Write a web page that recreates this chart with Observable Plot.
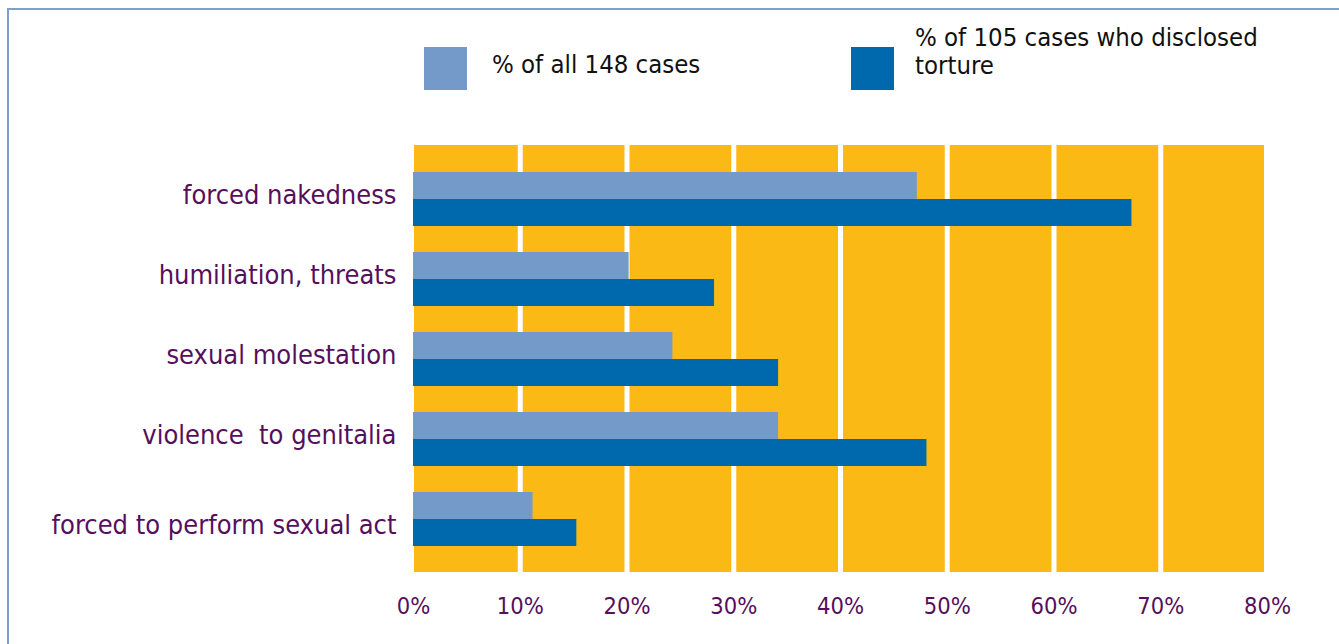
<!DOCTYPE html>
<html>
<head>
<meta charset="utf-8">
<script src="https://cdn.jsdelivr.net/npm/d3@7"></script>
<script src="https://cdn.jsdelivr.net/npm/@observablehq/plot@0.6"></script>
<style>
  html, body { margin: 0; padding: 0; background: #fff; overflow: hidden; }
  body { width: 1339px; height: 644px; position: relative; font-family: "DejaVu Sans Condensed", "DejaVu Sans", sans-serif; }
  #frame { position: absolute; left: 7px; top: 8px; width: 1340px; height: 650px; border-left: 2px solid #7f9fce; border-top: 2px solid #7f9fce; box-sizing: border-box; }
  #legend { position: absolute; left: 0; top: 0; width: 1339px; height: 100px; }
  .sw { position: absolute; width: 43px; height: 43px; top: 47px; }
  .lt { position: absolute; color: #111; font-size: 25.5px; line-height: 28px; }
  #chart { position: absolute; left: 0; top: 100px; }
</style>
</head>
<body>
<div id="frame"></div>
<div id="legend"></div>
<div id="chart"></div>
<script>
const categories = ["forced nakedness", "humiliation, threats", "sexual molestation", "violence  to genitalia", "forced to perform sexual act"];
const seriesNames = ["% of all 148 cases", "% of 105 cases who disclosed torture"];
const allCases = [47.2, 20.2, 24.3, 34.2, 11.2];
const disclosedCases = [67.3, 28.2, 34.2, 48.1, 15.3];
const xTicks = [0, 10, 20, 30, 40, 50, 60, 70, 80];
const colors = ["#739ac8", "#0069ad"];

// legend
const legend = document.getElementById("legend");
legend.innerHTML = `
  <div class="sw" style="left:424px;background:${colors[0]}"></div>
  <div class="lt" style="left:492px;top:50px">${seriesNames[0]}</div>
  <div class="sw" style="left:851px;background:${colors[1]}"></div>
  <div class="lt" style="left:915px;top:23px;width:400px">% of 105 cases who disclosed<br>torture</div>`;

const rows = [];
categories.forEach((c, i) => {
  rows.push({category: c, series: seriesNames[0], value: allCases[i]});
  rows.push({category: c, series: seriesNames[1], value: disclosedCases[i]});
});

const purple = "#560f5c";
const yAxisStyle = {tickSize: 0, tickPadding: 17, fontSize: 27, fill: purple, label: null};
const chart = Plot.plot({
  width: 1339,
  height: 544,
  marginTop: 45,
  marginBottom: 72,
  marginLeft: 413,
  marginRight: 72,
  style: {fontFamily: "'DejaVu Sans Condensed', 'DejaVu Sans', sans-serif", background: "transparent"},
  x: {domain: [0, 80], ticks: xTicks, tickFormat: d => d + "%", label: null},
  y: {domain: categories, paddingInner: 0.33, paddingOuter: 0.31, label: null, axis: null},
  marks: [
    Plot.rectX([0], {x1: 0, x2: 80, fill: "#fbb916", insetLeft: 1, insetRight: 3}),
    Plot.ruleX(xTicks.filter(d => d > 0 && d < 80), {stroke: "#fff", strokeWidth: 5}),
    Plot.barX(rows.filter(d => d.series === seriesNames[0]), {x: "value", y: "category", fill: colors[0], insetBottom: 27}),
    Plot.barX(rows.filter(d => d.series === seriesNames[1]), {x: "value", y: "category", fill: colors[1], insetTop: 27}),
    Plot.axisX({ticks: xTicks, tickFormat: d => d + "%", tickSize: 0, tickPadding: 25, fontSize: 23.5, fill: purple, label: null}),
    Plot.axisY(categories.slice(0, 4), {...yAxisStyle, dy: -4}),
    Plot.axisY(categories.slice(4), {...yAxisStyle, dy: 6})
  ]
});
document.getElementById("chart").appendChild(chart);
</script>
</body>
</html>
